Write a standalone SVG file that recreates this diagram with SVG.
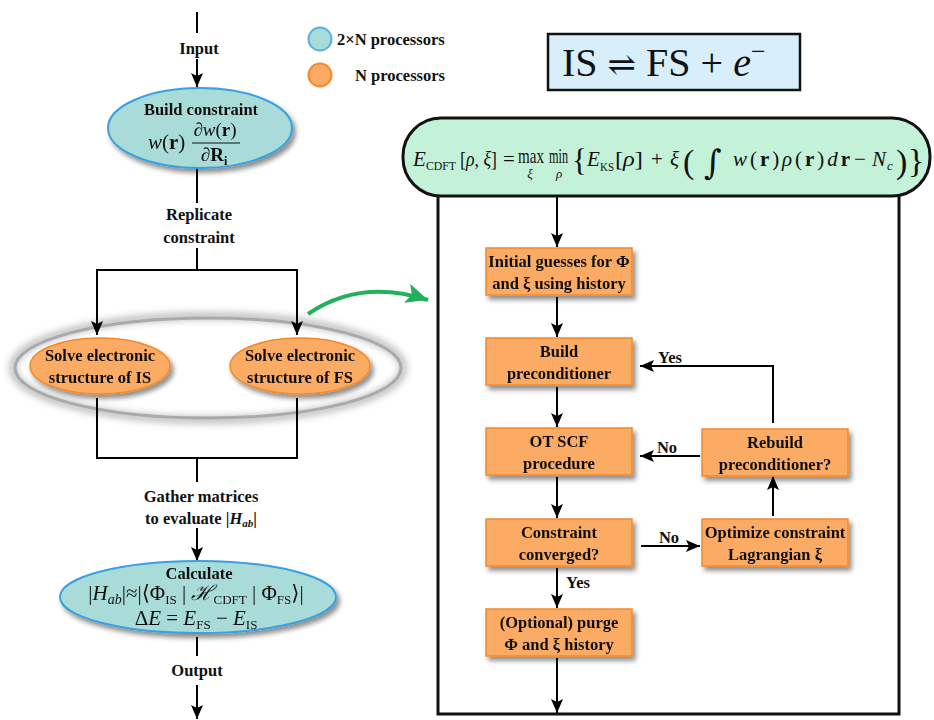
<svg xmlns="http://www.w3.org/2000/svg" width="934" height="720" viewBox="0 0 934 720">
<defs>
<marker id="ah" markerUnits="userSpaceOnUse" markerWidth="16" markerHeight="14" refX="14" refY="7" orient="auto">
<path d="M0,1 L14,7 L0,13 L3,7 z" fill="#000"/>
</marker>
<marker id="ahg" markerUnits="userSpaceOnUse" markerWidth="26" markerHeight="24" refX="22" refY="12" orient="auto">
<path d="M0,2 L22,12 L0,22 L5,12 z" fill="#22b05a"/>
</marker>
<filter id="sh" x="-20%" y="-20%" width="140%" height="150%">
<feGaussianBlur in="SourceAlpha" stdDeviation="2.5"/>
<feOffset dx="3" dy="4" result="b"/>
<feComponentTransfer><feFuncA type="linear" slope="0.45"/></feComponentTransfer>
<feMerge><feMergeNode/><feMergeNode in="SourceGraphic"/></feMerge>
</filter>
<filter id="glow" x="-10%" y="-30%" width="120%" height="160%">
<feGaussianBlur stdDeviation="3"/>
</filter>
</defs>
<style>
.t{font-family:"Liberation Serif",serif;font-weight:bold;font-size:16.5px;fill:#111;text-anchor:middle}
.m{font-family:"Liberation Serif","DejaVu Serif",serif;fill:#111}
.i{font-style:italic}
.box{fill:#fbab63;stroke:#f4892a;stroke-width:1.5}
.teal{fill:#a9dcd8;stroke:#3aa0e0;stroke-width:2}
.orn{fill:#fbab63;stroke:#f4892a;stroke-width:1.5}
.c{fill:none;stroke:#000;stroke-width:2}
</style>

<!-- legend -->
<g id="legend">
<circle cx="320" cy="39" r="11.5" fill="#a9dcd8" stroke="#5ab0e0" stroke-width="2"/>
<circle cx="320" cy="75" r="11.5" fill="#fbab63" stroke="#f4892a" stroke-width="2"/>
<text class="t" x="337" y="45" style="text-anchor:start">2×N processors</text>
<text class="t" x="355" y="81" style="text-anchor:start">N processors</text>
</g>

<!-- reaction box -->
<g id="reaction">
<rect x="548" y="34" width="252" height="56" fill="#d8eefb" stroke="#111" stroke-width="2.5"/>
<text class="m" x="562" y="76" font-size="40">IS <tspan font-family="DejaVu Serif" font-size="34">⇌</tspan> FS + <tspan class="i">e</tspan><tspan font-size="26" dy="-16">−</tspan></text>
</g>

<!-- gray ring -->
<g id="group-ring">
<ellipse cx="208" cy="368" rx="195" ry="52" fill="none" stroke="#c8c8c8" stroke-width="9" filter="url(#glow)"/>
<ellipse cx="208" cy="368" rx="193" ry="50" fill="none" stroke="#aaaaaa" stroke-width="3"/>
</g>

<!-- connectors -->
<g id="connectors">
<path class="c" d="M197 12 V33"/>
<path class="c" d="M197 59 V87" marker-end="url(#ah)"/>
<path class="c" d="M197 168 V203"/>
<path class="c" d="M197 248 V270"/>
<path class="c" d="M96 270 H298"/>
<path class="c" d="M97 270 V335" marker-end="url(#ah)"/>
<path class="c" d="M297 270 V335" marker-end="url(#ah)"/>
<path class="c" d="M97 398 V458 H297 V398"/>
<path class="c" d="M197 458 V482"/>
<path class="c" d="M197 528 V561" marker-end="url(#ah)"/>
<path class="c" d="M197 637 V656"/>
<path class="c" d="M197 685 V719" marker-end="url(#ah)"/>
<path d="M308 314 Q360 278 428 300" fill="none" stroke="#22b05a" stroke-width="4" marker-end="url(#ahg)"/>

<path class="c" d="M557 197 V247" marker-end="url(#ah)"/>
<path class="c" d="M557 297 V337" marker-end="url(#ah)"/>
<path class="c" d="M557 387 V427" marker-end="url(#ah)"/>
<path class="c" d="M557 477 V518" marker-end="url(#ah)"/>
<path class="c" d="M557 568 V608" marker-end="url(#ah)"/>
<path class="c" d="M557 658 V713" marker-end="url(#ah)"/>
<path class="c" d="M773 423 V366 H640" marker-end="url(#ah)"/>
<path class="c" d="M700 456 H640" marker-end="url(#ah)"/>
<path class="c" d="M641 546 H700" marker-end="url(#ah)"/>
<path class="c" d="M773 516 V476" marker-end="url(#ah)"/>
</g>

<!-- connector labels -->
<g id="labels">
<text class="t" x="199" y="54">Input</text>
<text class="t" x="199" y="220">Replicate</text>
<text class="t" x="199" y="243">constraint</text>
<text class="t" x="201" y="502">Gather matrices</text>
<text class="t" x="201" y="524">to evaluate |<tspan font-style="italic">H</tspan><tspan font-style="italic" font-size="11" dy="3">ab</tspan><tspan dy="-3">|</tspan></text>
<text class="t" x="197" y="676">Output</text>
<text class="t" x="670" y="363">Yes</text>
<text class="t" x="667" y="453">No</text>
<text class="t" x="669" y="543">No</text>
<text class="t" x="578" y="588">Yes</text>
</g>

<!-- left nodes -->
<g id="build-constraint" filter="url(#sh)">
<ellipse class="teal" cx="200" cy="128" rx="92" ry="40"/>
<text class="t" x="201" y="115">Build constraint</text>
<text class="m i" x="148" y="149" font-size="21">w<tspan font-style="normal">(</tspan><tspan font-style="normal" font-weight="bold">r</tspan><tspan font-style="normal">)</tspan></text>
<text class="m" x="215" y="136" font-size="19" text-anchor="middle">∂<tspan font-style="italic">w</tspan>(<tspan font-weight="bold">r</tspan>)</text>
<line x1="192" y1="143" x2="240" y2="143" stroke="#111" stroke-width="1.2"/>
<text class="m" x="214" y="161" font-size="19" text-anchor="middle">∂<tspan font-weight="bold">R</tspan><tspan font-weight="bold" font-size="12" dy="4">i</tspan></text>
</g>

<g id="solve-is" filter="url(#sh)">
<ellipse class="orn" cx="100" cy="366" rx="70" ry="28"/>
<text class="t" x="100" y="361">Solve electronic</text>
<text class="t" x="100" y="383">structure of IS</text>
</g>
<g id="solve-fs" filter="url(#sh)">
<ellipse class="orn" cx="300" cy="366" rx="70" ry="28"/>
<text class="t" x="300" y="361">Solve electronic</text>
<text class="t" x="300" y="383">structure of FS</text>
</g>

<g id="calculate" filter="url(#sh)">
<ellipse class="teal" cx="198" cy="597" rx="138" ry="36"/>
<text class="t" x="199" y="579">Calculate</text>
<text class="m" x="196" y="600" font-size="21" text-anchor="middle">|<tspan font-style="italic">H</tspan><tspan font-style="italic" font-size="14" dy="4">ab</tspan><tspan dy="-4">|≈|⟨Φ</tspan><tspan font-size="13" dy="4">IS</tspan><tspan dy="-4"> | </tspan><tspan font-family="DejaVu Serif" font-style="italic">ℋ</tspan><tspan font-size="13" dy="4">CDFT</tspan><tspan dy="-4"> | Φ</tspan><tspan font-size="13" dy="4">FS</tspan><tspan dy="-4">⟩|</tspan></text>
<text class="m" x="196" y="625" font-size="21" text-anchor="middle">Δ<tspan font-style="italic">E</tspan> = <tspan font-style="italic">E</tspan><tspan font-size="13" dy="4">FS</tspan><tspan dy="-4"> − </tspan><tspan font-style="italic">E</tspan><tspan font-size="13" dy="4">IS</tspan></text>
</g>

<!-- right panel -->
<g id="cdft-panel">
<rect x="438" y="150" width="461" height="564" fill="none" stroke="#111" stroke-width="3"/>
<rect x="403" y="118" width="527" height="78" rx="38" ry="38" fill="#c4f2d8" stroke="#111" stroke-width="3"/>
<g class="m" font-size="21">
<text x="413" y="166" class="i">E</text>
<text x="426" y="170" font-size="12" textLength="30" lengthAdjust="spacingAndGlyphs">CDFT</text>
<text x="460" y="166" textLength="37" lengthAdjust="spacingAndGlyphs">[<tspan font-style="italic">ρ</tspan>, <tspan font-style="italic">ξ</tspan>]</text>
<text x="503" y="166">=</text>
<text x="518" y="163" textLength="26" lengthAdjust="spacingAndGlyphs">max</text>
<text x="530" y="178" font-size="13" class="i" text-anchor="middle">ξ</text>
<text x="549" y="163" textLength="19" lengthAdjust="spacingAndGlyphs">min</text>
<text x="559" y="178" font-size="13" class="i" text-anchor="middle">ρ</text>
<text x="572" y="171" font-size="31">{</text>
<text x="587" y="166" class="i">E</text>
<text x="600" y="171" font-size="12" textLength="14" lengthAdjust="spacingAndGlyphs">KS</text>
<text x="615" y="166" textLength="28" lengthAdjust="spacingAndGlyphs">[<tspan font-style="italic">ρ</tspan>]</text>
<text x="651" y="166">+</text>
<text x="670" y="166" class="i">ξ</text>
<text x="683" y="173" font-size="34">(</text>
<text x="704" y="174" font-size="34" font-family="DejaVu Serif">∫</text>
<text x="733" y="166" textLength="117" lengthAdjust="spacing"><tspan font-style="italic">w</tspan>(<tspan font-weight="bold">r</tspan>)<tspan font-style="italic">ρ</tspan>(<tspan font-weight="bold">r</tspan>)<tspan font-style="italic">d</tspan><tspan font-weight="bold">r</tspan></text>
<text x="854" y="166">−</text>
<text x="872" y="166" class="i">N</text>
<text x="887" y="170" font-size="13" class="i">c</text>
<text x="896" y="173" font-size="34">)</text>
<text x="908" y="172" font-size="34">}</text>
</g>
</g>

<g id="initial-guesses" filter="url(#sh)">
<rect class="box" x="486" y="248" width="146" height="47"/>
<text class="t" x="559" y="267">Initial guesses for Φ</text>
<text class="t" x="559" y="289">and ξ using history</text>
</g>
<g id="build-preconditioner" filter="url(#sh)">
<rect class="box" x="486" y="338" width="146" height="47"/>
<text class="t" x="559" y="357">Build</text>
<text class="t" x="559" y="379">preconditioner</text>
</g>
<g id="ot-scf" filter="url(#sh)">
<rect class="box" x="486" y="428" width="146" height="47"/>
<text class="t" x="559" y="447">OT SCF</text>
<text class="t" x="559" y="469">procedure</text>
</g>
<g id="constraint-converged" filter="url(#sh)">
<rect class="box" x="486" y="519" width="146" height="47"/>
<text class="t" x="559" y="538">Constraint</text>
<text class="t" x="559" y="560">converged?</text>
</g>
<g id="purge" filter="url(#sh)">
<rect class="box" x="486" y="609" width="146" height="47"/>
<text class="t" x="559" y="628">(Optional) purge</text>
<text class="t" x="559" y="650">Φ and ξ history</text>
</g>
<g id="optimize" filter="url(#sh)">
<rect class="box" x="702" y="519" width="146" height="47"/>
<text class="t" x="775" y="538">Optimize constraint</text>
<text class="t" x="775" y="560">Lagrangian ξ</text>
</g>
<g id="rebuild" filter="url(#sh)">
<rect class="box" x="702" y="429" width="146" height="47"/>
<text class="t" x="775" y="448">Rebuild</text>
<text class="t" x="775" y="470">preconditioner?</text>
</g>
</svg>
